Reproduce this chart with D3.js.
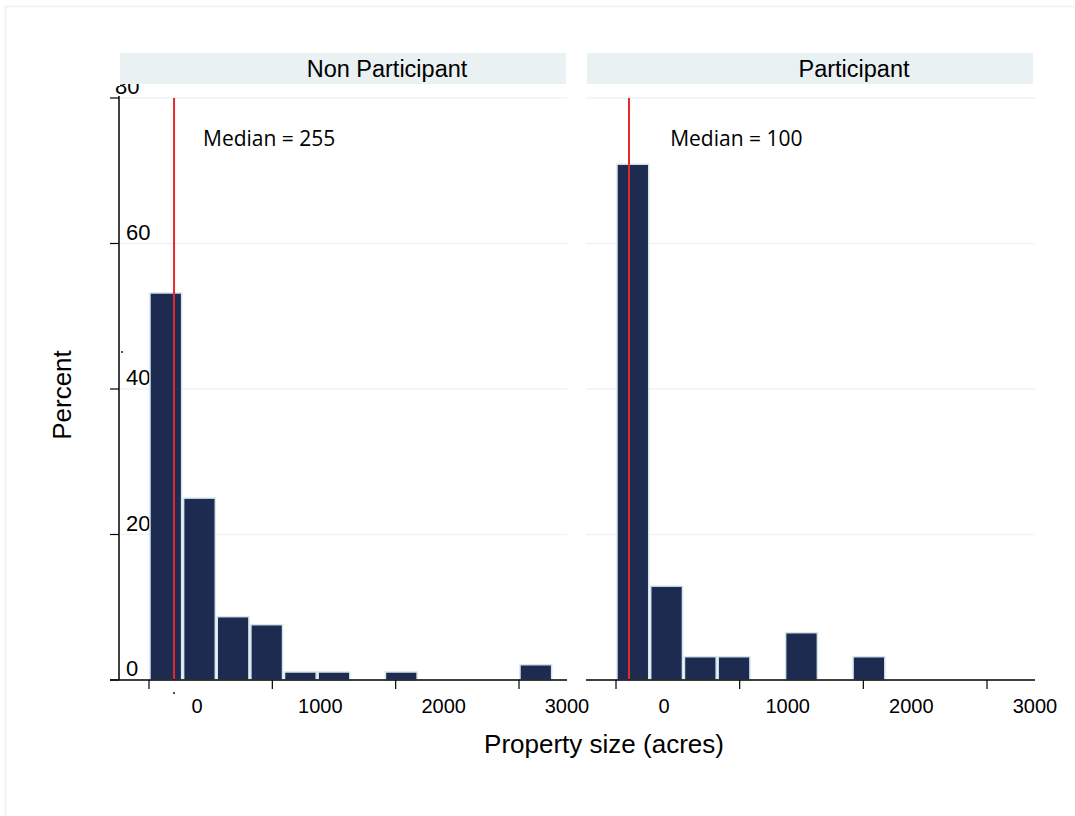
<!DOCTYPE html>
<html>
<head>
<meta charset="utf-8">
<script src="https://cdn.jsdelivr.net/npm/d3@7"></script>
<style>
  body { margin: 0; background: #fff; }
  text { font-family: "Liberation Sans", Arial, sans-serif; }
</style>
</head>
<body>
<script>
// histogram of property size, one panel per group
var panels = ["Non Participant", "Participant"],
    binWidth = 3000 / 11; // acres per bin
var nonPart = [53.2, 25.0, 8.7, 7.6, 1.1, 1.1, 0, 1.1, 0, 0, 0, 2.1],
    part = [70.9, 12.9, 3.2, 3.2, 0, 6.5, 0, 3.2, 0, 0, 0, 0];
var medianPos = [203, 105], // where the red line sits (acres)
    medianText = ["Median = 255", "Median = 100"],
    medianLabelAt = 438; // label start, in acres
var yTicks = [0, 20, 40, 60, 80],
    xTicks = [0, 1000, 2000, 3000];

var W = 1075, H = 816;
var svg = d3.select("body").append("svg")
    .attr("width", W)
    .attr("height", H);

// outer frame (only top and left edge show)
svg.append("rect")
    .attr("x", 5.5).attr("y", 6.5)
    .attr("width", W + 10).attr("height", H + 10)
    .attr("fill", "none")
    .attr("stroke", "#e9f1f4")
    .attr("stroke-width", 1.5);

var y = d3.scaleLinear().domain([0, 80]).range([680, 98]);

// y labels go first so the header strip can clip the 80
svg.selectAll("text.yl").data(yTicks).enter().append("text")
    .attr("x", function(d){ return d == 80 ? 115 : 126; })
    .attr("y", function(d){ return y(d) - 4; })
    .style("font-size", "22px")
    .text(function(d){ return d; });
svg.append("rect")
    .attr("x", 100).attr("y", 53).attr("width", 20).attr("height", 33)
    .attr("fill", "#fff");

// per panel layout
var layout = [
  { zero: 149, three: 519, left: 110, right: 567, hL: 120, hR: 566, values: nonPart },
  { zero: 616, three: 987, left: 586, right: 1035, hL: 587, hR: 1033, values: part }
];

layout.forEach(function(p, k){
  var x = d3.scaleLinear().domain([0, 3000]).range([p.zero, p.three]);
  var g = svg.append("g");

  // gridlines
  g.selectAll("line.grid").data(yTicks.slice(1)).enter().append("line")
      .attr("x1", k == 0 ? 120 : p.left).attr("x2", p.right)
      .attr("y1", function(d){ return y(d); })
      .attr("y2", function(d){ return y(d); })
      .attr("stroke", "#edf3f6")
      .attr("stroke-width", 1.5);

  // bars
  g.selectAll("rect.bar").data(p.values).enter().append("rect")
      .attr("x", function(d, i){ return x(i * binWidth) + 1; })
      .attr("width", function(d, i){ return x((i + 1) * binWidth) - x(i * binWidth) - 2; })
      .attr("y", function(d){ return y(d); })
      .attr("height", function(d){ return y(0) - y(d); })
      .attr("fill", function(d){ return d > 0 ? "#1c2b4f" : "none"; })
      .attr("stroke", function(d){ return d > 0 ? "#d5e5ec" : "none"; })
      .attr("stroke-width", 1.5);

  // median line
  g.append("line")
      .attr("x1", x(medianPos[k])).attr("x2", x(medianPos[k]))
      .attr("y1", y(80)).attr("y2", y(0))
      .attr("stroke", "#e8282c")
      .attr("stroke-width", 2);

  g.append("text")
      .attr("x", x(medianLabelAt))
      .attr("y", 146)
      .style("font-family", "'Open Sans', sans-serif")
      .style("font-size", "21px")
      .text(medianText[k]);

  // x axis
  g.append("line")
      .attr("x1", p.left).attr("x2", p.right)
      .attr("y1", y(0)).attr("y2", y(0))
      .attr("stroke", "#000").attr("stroke-width", 1.5);
  g.selectAll("line.xt").data(xTicks).enter().append("line")
      .attr("x1", function(d){ return x(d); })
      .attr("x2", function(d){ return x(d); })
      .attr("y1", y(0)).attr("y2", y(0) + 9)
      .attr("stroke", "#000").attr("stroke-width", 1.2);
  // labels sit shifted right of their ticks in the original
  g.selectAll("text.xl").data(xTicks).enter().append("text")
      .attr("x", function(d){ return x(d) + 48; })
      .attr("y", 713)
      .attr("text-anchor", "middle")
      .style("font-size", "20px")
      .text(function(d){ return d; });

  // header strip
  g.append("rect")
      .attr("x", p.hL).attr("y", 53)
      .attr("width", p.hR - p.hL).attr("height", 31)
      .attr("fill", "#eaf1f3");
  g.append("text")
      .attr("x", (p.hL + p.hR) / 2 + 44)
      .attr("y", 77)
      .attr("text-anchor", "middle")
      .style("font-size", "23.5px")
      .text(panels[k]);
});

// y axis (left panel only)
var ya = svg.append("g");
ya.append("line")
    .attr("x1", 119).attr("x2", 119)
    .attr("y1", y(80) - 2).attr("y2", y(0))
    .attr("stroke", "#000").attr("stroke-width", 1.5);
ya.selectAll("line.yt").data(yTicks).enter().append("line")
    .attr("x1", 110).attr("x2", 119)
    .attr("y1", function(d){ return y(d); })
    .attr("y2", function(d){ return y(d); })
    .attr("stroke", "#000").attr("stroke-width", 1.2);

// stray dots in the original
svg.append("circle").attr("cx", 122).attr("cy", 352).attr("r", 0.9).attr("fill", "#000");
svg.append("circle").attr("cx", 174).attr("cy", 693).attr("r", 0.9).attr("fill", "#000");

// axis titles
svg.append("text")
    .attr("transform", "translate(71,395) rotate(-90)")
    .attr("text-anchor", "middle")
    .style("font-size", "26px")
    .text("Percent");
svg.append("text")
    .attr("x", 604).attr("y", 753)
    .attr("text-anchor", "middle")
    .style("font-size", "26px")
    .text("Property size (acres)");
</script>
</body>
</html>
